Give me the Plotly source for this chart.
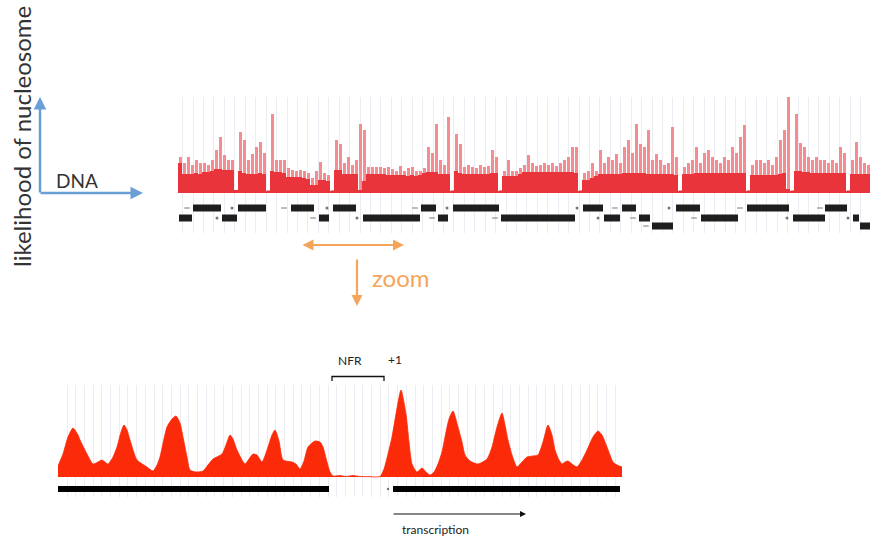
import plotly.graph_objects as go

W, H = 870, 537

# ---------------- data ----------------
# genome-wide track (positions in track units, 4-unit bins starting at 178)
top_base = [30, 19, 19, 19, 20, 19, 21, 21, 22, 24,
            24, 23, 23, 23, 3, 22, 20, 19, 19, 19,
            20, 19, 2, 22, 21, 21, 20, 16, 16, 16,
            16, 15, 14, 8, 8, 13, 13, 12, 2, 23,
            23, 19, 19, 19, 19, 3, 12, 19, 19, 19,
            19, 19, 18, 18, 18, 18, 18, 17, 18, 17,
            18, 20, 21, 21, 21, 19, 19, 19, 2, 22,
            20, 19, 19, 19, 19, 19, 19, 19, 20, 20,
            2, 17, 17, 17, 17, 19, 21, 21, 21, 21,
            21, 21, 21, 21, 21, 21, 21, 21, 21, 20,
            2, 13, 13, 15, 17, 19, 19, 19, 19, 19,
            19, 20, 20, 20, 20, 20, 20, 19, 19, 19,
            19, 19, 19, 19, 18, 2, 19, 19, 19, 20,
            20, 20, 20, 20, 20, 20, 20, 20, 20, 20,
            20, 20, 2, 18, 18, 18, 18, 18, 18, 18,
            19, 20, 4, 2, 22, 22, 21, 21, 20, 20,
            20, 20, 20, 20, 20, 20, 20, 2, 19, 19,
            19, 19, 19]
top_peak = [36, 30, 36, 28, 33, 30, 30, 28, 33, 43,
            56, 38, 33, 33, 3, 61, 53, 33, 39, 46,
            51, 40, 3, 79, 33, 33, 33, 25, 23, 22,
            23, 22, 20, 15, 22, 31, 20, 18, 3, 53,
            49, 30, 36, 28, 33, 69, 63, 26, 26, 26,
            26, 25, 26, 24, 22, 27, 22, 25, 26, 22,
            22, 25, 46, 40, 69, 33, 28, 76, 3, 59,
            49, 26, 28, 26, 25, 28, 26, 27, 43, 36,
            3, 22, 33, 22, 22, 25, 28, 38, 30, 27,
            28, 30, 28, 30, 27, 30, 33, 36, 46, 46,
            3, 20, 22, 30, 22, 43, 30, 36, 33, 39,
            30, 46, 53, 40, 69, 49, 46, 63, 33, 39,
            33, 28, 30, 66, 36, 3, 26, 30, 33, 46,
            30, 40, 43, 36, 33, 30, 36, 33, 46, 40,
            56, 68, 3, 28, 33, 33, 30, 33, 28, 36,
            53, 63, 96, 3, 79, 50, 46, 36, 33, 36,
            33, 33, 30, 33, 30, 46, 40, 3, 33, 51,
            36, 30, 28]
top_pos = [180 + 4 * i for i in range(len(top_base))]

# gene annotation rows (start, end)
genes_row1 = [(193, 221), (238, 266), (291, 314), (333, 356), (421, 436), (453, 499),
              (583, 603), (622, 636), (676, 700), (747, 789), (825, 847)]
genes_row2 = [(179, 192), (222, 237), (319, 329), (363, 420), (438, 448), (501, 575),
              (604, 620), (639, 650), (701, 738), (793, 825), (853, 859)]
genes_row3 = [(652, 673), (860, 870)]
strand_dash = [(187, 1), (284, 1), (313, 2), (415, 1), (432, 2), (495, 2), (615, 1),
               (633, 2), (646, 3), (694, 2), (740, 1), (820, 1)]
strand_dot = [(232, 1), (217, 2), (327, 1), (357, 2), (447, 1), (577, 1), (598, 2),
              (669, 1), (787, 2), (848, 2)]

# zoomed track
zoom_pos = [58, 63, 68, 73, 78, 80, 87, 93, 98, 102, 108, 113, 117, 121, 124, 127, 130,
            137, 147, 153, 157, 160, 167, 172, 176, 180, 183, 187, 190, 196, 203, 208,
            213, 222, 226, 230, 233, 237, 245, 249, 253, 257, 262, 268, 272, 275, 279,
            283, 292, 296, 300, 304, 308, 315, 320, 323, 327, 330, 333, 340, 346, 353,
            360, 370, 380, 384, 388, 392, 396, 401, 406, 409, 412, 417, 422, 426, 430,
            434, 438, 442, 445, 449, 453, 458, 462, 465, 470, 478, 487, 492, 497, 502,
            505, 508, 512, 517, 522, 527, 533, 538, 543, 548, 552, 555, 559, 562, 565,
            568, 572, 577, 582, 587, 593, 598, 602, 607, 610, 613, 617, 622]
zoom_val = [11, 23, 40, 49, 42, 37, 23, 13, 15, 17, 13, 20, 30, 45, 52, 47, 37,
            17, 10, 6, 12, 20, 50, 58, 61, 54, 40, 20, 7, 5, 6, 12,
            18, 23, 32, 42, 38, 27, 13, 18, 23, 22, 15, 30, 42, 47, 36,
            17, 15, 13, 8, 16, 30, 36, 35, 30, 15, 5, 1, 1.5, 0.5, 1.5,
            0.5, 0.3, 0.5, 8, 23, 40, 63, 87, 63, 35, 13, 5, 9, 5, 2,
            5, 13, 25, 40, 58, 66, 50, 35, 22, 16, 13, 18, 30, 50, 64,
            52, 37, 22, 10, 15, 20, 21, 22, 35, 52, 42, 27, 17, 13, 15,
            16, 13, 10, 17, 27, 40, 46, 42, 30, 22, 15, 12, 10]
zoom_genes = [(58, 329), (393, 620)]
zoom_dot = [388]

# ---------------- helpers ----------------
def px(x):
    return x / W


def py(y):
    return 1 - y / H


ROW_Y = {1: -15, 2: -25, 3: -33}

fig = go.Figure()

# top track: spikes (light) and base (solid)
fig.add_trace(go.Bar(x=top_pos, y=top_peak, width=3.0, marker=dict(color="#f58c92", line_width=0),
                     xaxis="x", yaxis="y", hoverinfo="skip"))
fig.add_trace(go.Bar(x=top_pos, y=top_base, width=4.05, marker=dict(color="#e9343c", line_width=0),
                     xaxis="x", yaxis="y", hoverinfo="skip"))


def seg_xy(segs, yv):
    xs, ys = [], []
    for a, b in segs:
        xs += [a, b, None]
        ys += [yv, yv, None]
    return xs, ys


for r, segs in ((1, genes_row1), (2, genes_row2), (3, genes_row3)):
    xs, ys = seg_xy(segs, ROW_Y[r])
    fig.add_trace(go.Scatter(x=xs, y=ys, mode="lines", line=dict(color="#1e1e1e", width=7),
                             xaxis="x", yaxis="y", hoverinfo="skip"))

fig.add_trace(go.Scatter(x=[p for p, r in strand_dash], y=[ROW_Y[r] for p, r in strand_dash],
                         mode="markers", marker=dict(symbol="line-ew", size=4, line=dict(color="#777", width=1)),
                         xaxis="x", yaxis="y", hoverinfo="skip"))
fig.add_trace(go.Scatter(x=[p for p, r in strand_dot], y=[ROW_Y[r] for p, r in strand_dot],
                         mode="markers", marker=dict(symbol="circle", size=3, color="#777"),
                         xaxis="x", yaxis="y", hoverinfo="skip"))

# zoomed track
fig.add_trace(go.Scatter(x=zoom_pos, y=zoom_val, mode="lines", fill="tozeroy",
                         line=dict(color="#fb2a08", width=0.8, shape="spline", smoothing=0.6),
                         fillcolor="#fb2a08", xaxis="x2", yaxis="y2", hoverinfo="skip"))
xs, ys = seg_xy(zoom_genes, -12)
fig.add_trace(go.Scatter(x=xs, y=ys, mode="lines", line=dict(color="#000000", width=6),
                         xaxis="x2", yaxis="y2", hoverinfo="skip"))
fig.add_trace(go.Scatter(x=zoom_dot, y=[-12] * len(zoom_dot), mode="markers",
                         marker=dict(size=2.5, color="#777"), xaxis="x2", yaxis="y2", hoverinfo="skip"))

hidden = dict(showticklabels=False, ticks="", zeroline=False, showline=False, fixedrange=True)
grid_col = "#ececf4"

fig.update_layout(
    width=W, height=H, margin=dict(l=0, r=0, t=0, b=0),
    paper_bgcolor="white", plot_bgcolor="rgba(0,0,0,0)",
    showlegend=False, barmode="overlay", bargap=0,
    xaxis=dict(domain=[px(178), 1.0], range=[178, 870], anchor="y", showgrid=True,
               gridcolor=grid_col, gridwidth=1, tick0=182.7, dtick=10.43, **hidden),
    yaxis=dict(domain=[py(233), py(97)], range=[-40, 96], anchor="x", showgrid=False, **hidden),
    xaxis2=dict(domain=[px(58), px(622)], range=[58, 622], anchor="y2", showgrid=True,
                gridcolor=grid_col, gridwidth=1, tick0=58.3, dtick=8.7, **hidden),
    yaxis2=dict(domain=[py(497), py(385)], range=[-20, 92], anchor="x2", showgrid=False, **hidden),
)

FONT = "Lato, Open Sans, sans-serif"


def label(x, y, text, size, color, angle=0):
    return dict(x=px(x), y=py(y), text=text, showarrow=False, textangle=angle,
                xanchor="center", yanchor="middle", xref="paper", yref="paper",
                font=dict(family=FONT, size=size, color=color))


ann = [
    label(21, 137, "likelihood of nucleosome", 24, "#333333", -90),
    label(77, 180, "DNA", 19, "#333333"),
    label(401, 277, "zoom", 24, "#f5a55a"),
    label(350, 360, "NFR", 12, "#222222"),
    label(395, 359, "+1", 12, "#222222"),
    label(436, 529, "transcription", 12, "#222222"),
]


def arrow(x0, y0, x1, y1, color, width, head=2, size=1.0, side="end"):
    return dict(x=px(x1), y=py(y1), ax=x0 - x1, ay=y0 - y1, xref="paper", yref="paper",
                text="", showarrow=True, arrowhead=head, arrowsize=size, arrowwidth=width,
                arrowcolor=color, arrowside=side, startarrowhead=head, startarrowsize=size)


BLUE = "#6a9fd6"
ORANGE = "#f5a55a"
ann.append(arrow(40, 194, 40, 97, BLUE, 2.5))
ann.append(arrow(39, 193, 143, 193, BLUE, 2.5))
ann.append(arrow(301, 245, 404, 245, ORANGE, 2.2, side="end+start"))
ann.append(arrow(357, 258, 357, 306, ORANGE, 2.2))
ann.append(arrow(392, 514, 526, 514, "#111111", 1.2))
fig.update_layout(annotations=ann)

fig.add_shape(type="path",
              path=f"M {px(332)},{py(381)} L {px(332)},{py(376.5)} L {px(384)},{py(376.5)} L {px(384)},{py(381)}",
              xref="paper", yref="paper", line=dict(color="#111", width=1.3))

fig.write_html("out.html", config={"displayModeBar": False},
               post_script="document.body.style.margin='0';document.body.style.padding='0';")
